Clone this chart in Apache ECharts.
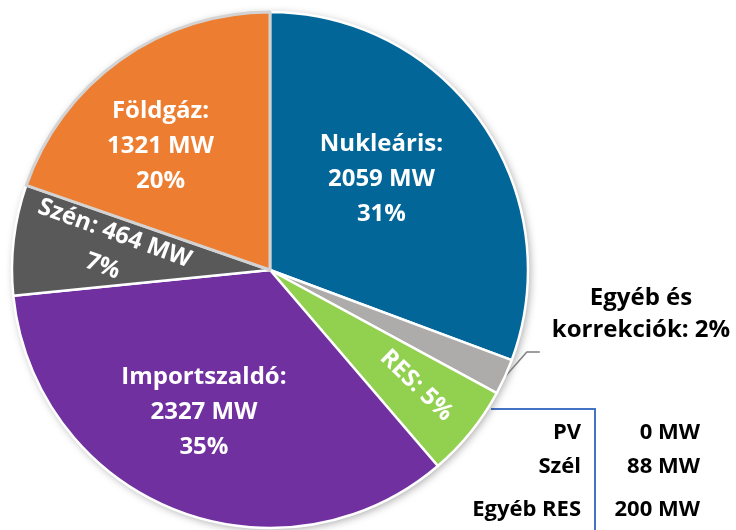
<!DOCTYPE html>
<html>
<head>
<meta charset="utf-8">
<script src="https://cdn.jsdelivr.net/npm/echarts@6/dist/echarts.min.js"></script>
<style>
  html, body { margin: 0; padding: 0; background: #fff; }
  #myPie { width: 736px; height: 530px; }
</style>
</head>
<body>
<div id="myPie"></div>
<script>
// slices, clockwise from 12 o'clock
const sliceNames = ["Nukleáris", "Egyéb és korrekciók", "RES", "Importszaldó", "Szén", "Földgáz"];
const sliceMW = [2059, 150, 390, 2327, 464, 1321];
const slicePct = [31, 2, 5, 35, 7, 20];
const sliceColors = ["#026699", "#AEABAB", "#92D050", "#7030A0", "#595959", "#ED7D31"];

// RES breakdown table
const resNames = ["PV", "Szél", "Egyéb RES"];
const resMW = [0, 88, 200];

const FONT = "Open Sans";

(function () {
  let myPie = document.getElementById("myPie");
  let myChart = echarts.init(myPie);

  // label nudges (px) from the default inside position
  const nudge = [[3, -16], [0, 0], [54, -7], [-17, 20], [-30, 6], [-33, -16]];
  const rotations = [0, 0, -44, 0, -20, 0];

  const labelText = function (i) {
    const n = sliceNames[i], v = sliceMW[i], p = slicePct[i] + "%";
    if (i === 1) return "Egyéb és\nkorrekciók: " + p;
    if (i === 2) return n + ": " + p;
    if (i === 4) return n + ": " + v + " MW\n" + p;
    return n + ":\n" + v + " MW\n" + p;
  };

  const pieData = sliceNames.map(function (n, i) {
    const item = {
      name: n,
      value: sliceMW[i],
      itemStyle: { color: sliceColors[i] },
      label: { rotate: rotations[i] },
    };
    if (i === 5) {
      item.itemStyle.borderColor = "#D3D3D3";
      item.itemStyle.borderWidth = 3;
    }
    if (i === 1) {
      item.label = {
        position: "outside",
        color: "#000",
        lineHeight: 32,
        align: "center",
      };
      item.labelLine = {
        show: true,
        length: 20,
        length2: 14,
        lineStyle: { color: "#7F7F7F", width: 1.5 },
      };
    }
    return item;
  });

  const rows = [];
  const rowY = [433, 467, 510];
  resNames.forEach(function (n, i) {
    rows.push({
      type: "text",
      style: { text: n, x: 581, y: rowY[i], align: "right", verticalAlign: "middle",
        font: "bold 22px " + FONT, fill: "#000" },
    });
    rows.push({
      type: "text",
      style: { text: resMW[i] + " MW", x: 700, y: rowY[i], align: "right", verticalAlign: "middle",
        font: "bold 22px " + FONT, fill: "#000" },
    });
  });
  rows.push({
    type: "polyline",
    shape: { points: [[491, 409], [595, 409], [595, 530]] },
    style: { stroke: "#4472C4", lineWidth: 2, fill: null },
  });

  let option = {
    animation: false,
    graphic: rows,
    series: [
      {
        // shadow disc under the pie
        type: "pie",
        silent: true,
        center: [270, 270],
        radius: 258,
        startAngle: 90,
        label: { show: false },
        labelLine: { show: false },
        itemStyle: {
          color: "#fff",
          shadowBlur: 8,
          shadowOffsetX: 2,
          shadowOffsetY: 2,
          shadowColor: "rgba(0,0,0,0.35)",
        },
        data: sliceMW.slice(),
        z: 1,
      },
      {
        type: "pie",
        center: [270, 270],
        radius: 258,
        startAngle: 90,
        clockwise: true,
        avoidLabelOverlap: false,
        z: 2,
        itemStyle: { borderColor: "#fff", borderWidth: 2.5 },
        label: {
          show: true,
          position: "inside",
          color: "#fff",
          fontFamily: FONT,
          fontWeight: "bold",
          fontSize: 24,
          lineHeight: 35,
          align: "center",
          formatter: function (p) { return labelText(p.dataIndex); },
        },
        labelLine: { show: false },
        labelLayout: function (params) {
          const i = params.dataIndex;
          if (params.seriesIndex !== 1) return {};
          if (i === 1) {
            const s = params.labelLinePoints ? params.labelLinePoints[0] : [503, 378];
            return {
              x: 641,
              y: 314,
              align: "center",
              verticalAlign: "middle",
              labelLinePoints: [s, [s[0] + 22, s[1] - 25], [s[0] + 35, s[1] - 25]],
            };
          }
          return { dx: nudge[i][0], dy: nudge[i][1] };
        },
        data: pieData,
      },
    ],
  };

  option && myChart.setOption(option);
})();
</script>
</body>
</html>
